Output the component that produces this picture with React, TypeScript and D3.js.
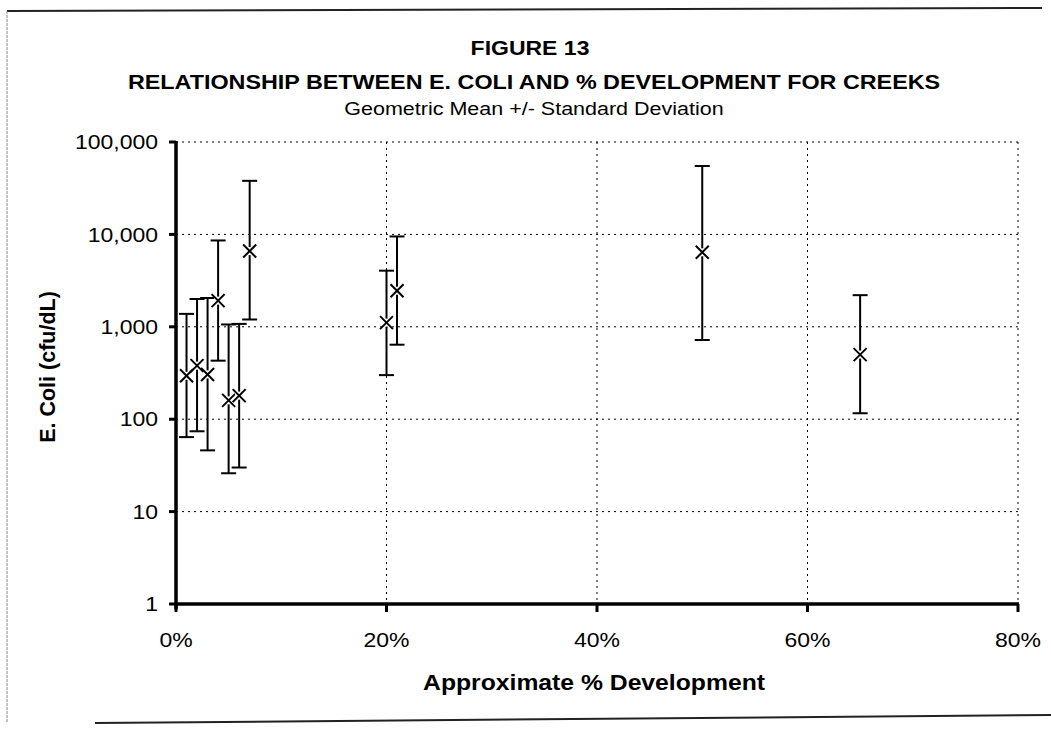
import React from "react";
import * as d3 from "d3";

// Approximate % development of each creek watershed (fraction)
const development = [0.01, 0.02, 0.03, 0.04, 0.05, 0.06, 0.07, 0.2, 0.21, 0.5, 0.65];
// Geometric mean E. coli (cfu/dL)
const geoMean = [295, 380, 305, 1920, 160, 180, 6600, 1110, 2460, 6400, 500];
// Geometric mean + one standard deviation
const upperBound = [1380, 2000, 2050, 8600, 1060, 1075, 38000, 4050, 9500, 55000, 2200];
// Geometric mean - one standard deviation
const lowerBound = [64, 74, 46, 430, 26, 30, 1200, 300, 640, 720, 116];

const yTicks = [1, 10, 100, 1000, 10000, 100000];
const xTicks = [0, 0.2, 0.4, 0.6, 0.8];

const W = 1051;
const H = 731;
const left = 176;
const right = 1018;
const top = 142;
const bottom = 604;

// Text set slightly wide, like the original typeset figure
const SX = 1.15;

type TProps = {
  x: number;
  y: number;
  size: number;
  anchor?: "start" | "middle" | "end";
  bold?: boolean;
  dy?: string;
  children: React.ReactNode;
};

function WideText({ x, y, size, anchor = "middle", bold = false, dy, children }: TProps) {
  return (
    <text
      transform={`translate(${x},${y}) scale(${SX},1)`}
      textAnchor={anchor}
      fontSize={size}
      fontWeight={bold ? "bold" : "normal"}
      dy={dy}
      fill="#000"
    >
      {children}
    </text>
  );
}

export default function App() {
  const x = d3.scaleLinear().domain([0, 0.8]).range([left, right]);
  const y = d3.scaleLog().domain([1, 100000]).range([bottom, top]);
  const fmtY = d3.format(",");
  const fmtX = d3.format(".0%");
  const font = "'Liberation Sans', Arial, sans-serif";

  const points = development.map((d, i) => ({
    x: d,
    mean: geoMean[i],
    hi: upperBound[i],
    lo: lowerBound[i],
  }));

  const cap = 7.5;
  const mk = 6.5;

  return (
    <svg
      width={W}
      height={H}
      viewBox={`0 0 ${W} ${H}`}
      style={{ position: "absolute", left: 0, top: 0, background: "#fff" }}
      fontFamily={font}
    >
      <rect x={0} y={0} width={W} height={H} fill="#fff" />
      {/* page frame */}
      <line x1={7} y1={11} x2={1042} y2={8} stroke="#222" strokeWidth={2} />
      <line x1={7} y1={11} x2={7} y2={722} stroke="#888" strokeWidth={1} strokeDasharray="3,1" />
      <line x1={95} y1={723} x2={1051} y2={715} stroke="#222" strokeWidth={2} />

      {/* titles */}
      <WideText x={530} y={55} size={20} bold>
        FIGURE 13
      </WideText>
      <WideText x={534} y={89} size={20.3} bold>
        RELATIONSHIP BETWEEN E. COLI AND % DEVELOPMENT FOR CREEKS
      </WideText>
      <WideText x={534} y={115} size={18.7}>
        Geometric Mean +/- Standard Deviation
      </WideText>

      {/* gridlines */}
      {yTicks.slice(1).map((t) => (
        <line
          key={`gy${t}`}
          x1={left}
          x2={right}
          y1={y(t)}
          y2={y(t)}
          stroke="#000"
          strokeWidth={1}
          strokeDasharray="2,4"
        />
      ))}
      {xTicks.slice(1).map((t) => (
        <line
          key={`gx${t}`}
          x1={x(t)}
          x2={x(t)}
          y1={top}
          y2={bottom}
          stroke="#000"
          strokeWidth={1}
          strokeDasharray="2,4"
        />
      ))}

      {/* y axis */}
      <line x1={left} x2={left} y1={top - 1} y2={bottom + 5} stroke="#000" strokeWidth={3.5} />
      {yTicks.map((t) => (
        <g key={`ty${t}`}>
          <line x1={left - 7} x2={left} y1={y(t)} y2={y(t)} stroke="#000" strokeWidth={3} />
          <WideText x={left - 18} y={y(t)} dy="0.36em" anchor="end" size={20}>
            {fmtY(t)}
          </WideText>
        </g>
      ))}

      {/* x axis */}
      <line x1={left - 2} x2={right + 1} y1={bottom} y2={bottom} stroke="#000" strokeWidth={3.5} />
      {xTicks.map((t) => (
        <g key={`tx${t}`}>
          <line x1={x(t)} x2={x(t)} y1={bottom} y2={bottom + 8} stroke="#000" strokeWidth={3} />
          <WideText x={x(t)} y={647} size={20}>
            {fmtX(t)}
          </WideText>
        </g>
      ))}

      {/* axis titles */}
      <WideText x={594} y={690} size={21.5} bold>
        Approximate % Development
      </WideText>
      <text
        transform={`translate(55,367) rotate(-90)`}
        textAnchor="middle"
        fontSize={21.5}
        fontWeight="bold"
      >
        E. Coli (cfu/dL)
      </text>

      {/* error bars and geometric-mean markers */}
      {points.map((p, i) => {
        const cx = x(p.x);
        const cy = y(p.mean);
        return (
          <g key={`p${i}`} stroke="#000" strokeWidth={2}>
            <line x1={cx} x2={cx} y1={y(p.hi)} y2={y(p.lo)} />
            <line x1={cx - cap} x2={cx + cap} y1={y(p.hi)} y2={y(p.hi)} />
            <line x1={cx - cap} x2={cx + cap} y1={y(p.lo)} y2={y(p.lo)} />
            <rect x={cx - 4} y={cy - 4} width={8} height={8} fill="#fff" stroke="none" />
            <line x1={cx - mk} x2={cx + mk} y1={cy - mk} y2={cy + mk} />
            <line x1={cx - mk} x2={cx + mk} y1={cy + mk} y2={cy - mk} />
          </g>
        );
      })}
    </svg>
  );
}
